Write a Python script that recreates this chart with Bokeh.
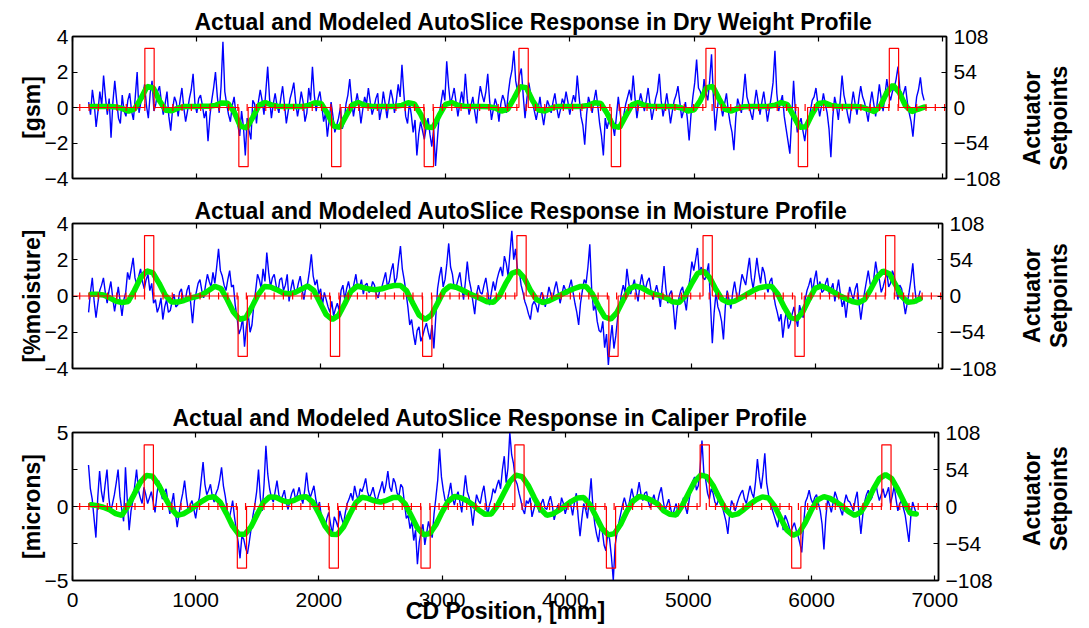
import math
import numpy as np
from bokeh.plotting import figure
from bokeh.layouts import column, row
from bokeh.models import Range1d, LinearAxis, FixedTicker
from bokeh.core.properties import value
from bokeh.embed import file_html
from bokeh.resources import INLINE

# ---------------- data ----------------
x_ticks = [0, 1000, 2000, 3000, 4000, 5000, 6000, 7000]
act_ticks = [-108, -54, 0, 54, 108]

# measured profile sample positions (mm) and model positions (mm)
blue_x = np.arange(130, 6851, 15)
model_x = np.arange(150, 6851, 50)

# actuator setpoint bumps
act_starts = [582, 1338, 2084, 2829, 3591, 4334, 5095, 5838, 6570]
act_values = [90, -90, -90, -90, 90, -90, 90, -90, 90]
act_width = 74.8
act_first_edge = 58.4
act_count = 94

dry_actual = [
    0.3, -0.4, 1.0, 0.2, -1.1, -0.2, 0.9, 0.1, 1.8, 0.6, -0.4, 0.5, -1.7, 0.3, 1.5, 0.4, -0.6, -0.9, 0.7, -0.2,
    -0.5, 0.4, 0.8, -0.2, -0.7, 0.6, 2.0, -0.3, 0.3, 0.7, 1.3, 0.1, -0.6, 0.8, 1.5, -0.2, 0.2, 0.9, 1.2, 0.3,
    -0.4, 0.2, 0.9, -0.5, -1.3, -0.1, 0.6, 0.3, -0.5, 0.4, 1.1, 0.0, -0.8, -0.2, 0.5, 1.0, 1.9, 0.2, -0.3, 0.5,
    0.7, 0.1, -0.6, -0.2, -1.9, -0.5, 0.4, 1.1, 2.0, 0.6, -0.3, 1.2, 3.7, 0.9, 0.2, -0.4, -0.8, 0.1, 0.6, -0.4,
    -1.0, -1.6, -0.2, -1.1, -2.7, -0.6, -1.3, -1.8, 0.4, 0.2, -0.9, 0.3, 1.0, 0.4, -0.4, 0.9, 2.3, 0.5, -0.6, 0.2,
    0.8, 0.1, -0.3, 0.5, 1.2, 0.2, -0.9, -0.2, 0.5, 0.9, 1.4, 0.3, -0.5, 0.1, 0.9, 0.3, -0.8, -0.3, 1.1, 0.4,
    2.3, 0.7, -0.2, 0.5, 0.9, 0.1, -0.8, -0.3, -1.65, -0.7, 0.3, -0.5, -1.4, -1.0, -0.6, 0.0, -1.2, -0.8, 0.2, 0.7,
    1.6, 0.4, -0.5, 0.2, 0.8, 0.1, -0.9, -0.1, 0.6, 0.2, 1.1, 0.3, -0.4, 0.0, 0.5, 0.8, -0.7, -0.1, 0.9, 0.2,
    -0.6, 0.3, 1.0, 0.5, -0.3, 0.4, 1.3, 0.6, 2.4, 0.8, -0.5, -0.9, 0.3, -0.4, -1.4, -0.7, -2.7, -1.5, -0.8, -1.3,
    -1.8, -1.1, -0.6, -1.5, -2.2, -1.2, -3.3, -1.8, -0.4, 0.3, 1.0, 0.4, 2.6, 1.2, 0.2, 0.6, 1.1, 0.3, -0.5, 0.2,
    0.9, 0.2, 1.9, 0.5, -0.4, 0.1, 0.6, -0.2, -0.9, 0.4, 1.2, 0.7, 0.3, 0.9, 1.9, 0.4, -0.7, -0.1, 0.5, 0.1,
    -0.8, 0.2, 0.7, 0.4, -0.3, 0.8, 1.6, 2.1, 3.2, 1.5, 0.9, 1.8, 2.2, 0.7, -0.6, 0.5, 1.4, 0.8, 0.3, -0.2,
    -0.7, -0.1, 0.6, -0.3, -1.0, -0.2, 0.4, 0.1, -0.3, 0.3, 0.8, 0.0, -0.6, -0.1, 0.5, 0.2, 0.9, 0.3, -0.4, 0.2,
    0.7, 0.3, 1.8, 0.6, -0.5, -1.0, -2.1, -0.4, 0.6, 0.2, -0.3, 0.4, 1.0, 0.1, -0.9, -1.6, -2.7, -0.6, -1.2, -0.7,
    -0.4, -1.0, -1.6, -0.5, 0.6, -0.3, -1.1, -0.4, 0.2, 0.6, 1.0, 0.4, 1.8, 0.5, -0.6, 0.2, 0.8, 0.3, -0.2, 0.4,
    1.1, 0.2, -0.7, -0.1, 0.5, 0.9, 1.9, 0.4, -0.5, 0.1, 0.8, 0.0, -0.9, -0.2, 0.4, 0.7, 1.2, 0.3, -0.6, -0.2,
    0.3, -0.6, -1.85, -0.4, 0.6, 1.4, 2.7, 1.1, 0.9, 0.4, 1.6, 0.8, 0.4, 1.5, 3.0, 0.6, -1.3, -0.2, 0.7, 0.1,
    -0.5, 0.2, 0.8, -0.2, -0.9, -1.4, -2.4, -0.6, 0.5, 0.1, -0.3, 0.7, 1.9, 0.6, 0.2, -0.3, -0.7, 0.2, 1.0, 0.3,
    -0.4, 0.3, 0.9, 0.1, -0.8, -0.1, 0.6, 1.4, 3.2, 0.8, -0.2, 0.3, 0.7, -0.5, -1.2, -1.9, -2.6, -0.6, 1.5, -0.3,
    -1.4, -0.9, -0.6, -1.3, -1.9, -1.0, -0.9, -0.2, 0.4, 0.6, 1.1, 0.2, -0.5, 0.1, 0.8, 0.2, -0.3, -1.2, -2.8, -0.6,
    0.6, 0.1, -0.7, 0.4, 1.8, 0.7, 0.2, -0.4, -0.9, 0.1, 0.9, 0.2, -0.4, 0.5, 1.2, 0.6, 0.3, -0.2, -0.8, 0.2,
    0.9, 0.2, -0.5, 0.4, 1.3, 0.5, -0.2, 0.7, 1.6, 0.8, 0.4, 0.9, 1.1, 1.6, 2.3, 1.0, 0.5, 0.8, 1.2, 0.3,
    -0.3, -0.8, -1.65, -0.4, 0.6, 1.0, 1.7, 0.8, 0.4,
]

moist_actual = [
    -0.9, 0.2, 1.0, -0.3, -1.2, -0.4, 0.3, 0.6, 1.0, 0.2, -0.4, 0.3, 0.8, -0.1, -0.85, -0.2, 0.5, -0.3, -1.1, -0.2,
    0.2, 1.3, 0.9, 1.5, 2.1, 1.0, 0.6, 1.1, 1.5, 0.8, 0.4, 0.9, 1.2, 0.3, 0.7, -0.4, -0.2, -0.9, -0.6, -0.1,
    -1.3, -0.6, -0.2, -0.9, -0.8, -0.3, 0.1, -0.6, -0.5, 0.2, 0.4, -0.2, -0.3, 0.3, 0.6, -0.4, -1.5, -0.3, 0.2, 0.7,
    0.9, 0.3, -0.1, 0.6, 1.2, 0.8, 0.5, 1.3, 0.7, 1.6, 2.6, 1.4, 1.1, 0.6, 0.3, 0.9, 1.4, 0.5, 0.6, -0.5,
    -1.2, -2.1, -1.8, -1.2, -2.8, -1.7, -1.0, -2.0, -1.6, -0.5, 0.3, 1.2, 0.9, 0.4, 1.5, 0.8, 2.4, 1.3, 0.5, 1.0,
    1.2, 0.6, 0.2, 0.9, 1.0, 0.3, 0.6, 1.2, -0.3, 0.4, 0.9, 0.3, 0.2, 0.7, 1.1, 0.4, -0.2, 0.5, 0.7, 1.4,
    2.3, 1.1, 0.6, 0.9, 0.1, 0.4, -0.5, 0.2, -0.2, -0.6, -0.9, -0.3, -1.1, -0.7, -0.4, -0.8, 0.3, 0.6, -0.2, 0.4,
    0.8, 0.3, 0.2, 0.7, 1.2, 0.4, 0.5, 0.9, 0.1, 0.6, 0.7, 0.2, 0.3, 0.8, 0.6, 0.1, -0.1, 0.4, 0.5, 0.9,
    1.3, 0.5, 0.8, 1.4, 1.8, 0.7, 1.0, 1.9, 2.75, 1.5, 0.9, 0.2, -0.6, -1.6, -1.3, -2.1, -2.7, -1.9, -1.7, -2.5,
    -2.2, -1.8, -1.5, -2.0, -2.4, -1.6, -2.9, -1.2, 0.4, 1.1, 1.6, 0.5, 0.9, 1.8, 2.9, 1.6, 1.2, 0.4, 0.5, 0.9,
    1.3, 0.5, -0.2, 0.8, 1.9, 0.9, 0.4, -0.3, -1.0, 0.1, 0.6, 0.2, 0.1, 0.6, 1.0, 0.3, -0.5, 0.2, 0.8, 0.3,
    0.9, 1.3, 1.6, 1.1, 2.2, 1.8, 1.1, 2.4, 3.6, 2.0, 2.6, 1.5, 1.4, 0.6, 0.2, -0.3, -0.6, -1.0, -1.3, -0.5,
    -0.3, -0.5, -0.9, -0.2, 0.2, 0.0, -0.6, -0.1, 0.5, 0.1, -0.2, 0.4, 0.8, 0.2, -0.4, 0.1, 0.6, 0.3, 0.1, 0.5,
    0.9, 0.2, -0.4, -0.9, -1.6, -0.4, 0.3, 0.9, 0.7, 1.6, 2.85, 0.4, -0.8, -0.5, -1.4, -1.9, -2.0, -1.4, -2.85, -2.1,
    -3.8, -2.5, -1.6, -2.9, -2.2, -1.2, -0.7, 0.1, 0.6, 0.2, 1.5, 0.7, 0.1, 0.5, 0.9, 0.2, -0.3, 0.6, 1.2, 0.6,
    0.4, 0.8, 1.0, 0.3, -0.2, 0.2, 0.6, 0.1, -0.6, 0.5, 1.65, 0.4, -0.4, 0.1, 0.3, -0.6, -1.85, -0.7, -0.1, 0.3,
    0.5, -0.2, -0.8, 0.3, 1.0, 1.9, 1.4, 2.0, 2.65, 1.2, 1.6, 1.0, 0.9, 1.3, 1.8, -0.4, -2.6, -0.9, 0.2, -0.6,
    -0.9, -1.4, -2.4, -0.6, 0.3, -0.2, -0.7, 0.2, 0.8, 0.1, -0.3, 0.5, 1.2, 0.9, 0.6, 1.4, 2.1, 1.0, 0.4, 1.2,
    2.1, 1.3, 0.7, 1.6, 1.3, 0.6, 0.2, 0.8, 1.0, 0.1, -0.5, -0.9, -1.4, -1.0, -2.3, -1.4, -0.8, -1.8, -1.5, -1.0,
    -0.6, -1.2, -1.7, -0.5, -0.9, -1.2, -0.2, 0.3, 0.6, 1.0, 0.2, 0.9, 1.4, 0.4, 0.8, 0.2, 0.3, 0.7, 1.0, 0.1,
    0.4, 0.7, -0.3, 0.3, 0.9, 0.1, -0.6, -0.2, -1.2, -0.3, 0.5, 0.1, -0.2, 0.4, 0.7, -0.4, -1.3, -0.5, 0.2, 0.8,
    1.4, 0.7, 0.3, 1.0, 1.9, 1.2, 0.9, 0.2, 0.5, 0.9, 1.3, 0.5, 0.7, 1.4, 1.1, 0.4, -0.2, 0.6, 0.4, -0.3,
    -1.0, -0.4, 0.2, 0.9, 1.8, 0.5, -0.4, -0.1, 0.3,
]

cal_actual = [
    2.8, 1.2, 0.5, -0.8, -2.1, 0.6, 2.4, 1.0, 0.3, 1.5, 2.5, 0.6, -0.4, 0.2, 0.8, 1.6, 2.5, 0.7, -0.2, -1.0,
    2.65, 0.4, -1.6, -0.3, 0.4, 1.4, 2.5, 1.1, 0.6, 0.2, 1.3, 0.8, 0.2, 0.6, 1.0, 0.3, -0.4, 0.8, 1.75, 1.0,
    0.5, 0.9, 1.2, 0.3, -0.5, 0.2, 0.9, -0.4, -1.4, -0.5, 0.3, 0.9, 1.75, 0.6, -0.3, 0.1, 0.4, -0.2, -0.8, 0.1,
    0.6, 1.8, 3.0, 1.5, 0.8, 1.1, 1.5, 0.7, 0.3, 0.9, 1.2, 1.8, 2.65, 1.4, 0.7, -0.2, -0.9, -0.3, 0.4, -0.7,
    -1.6, -2.4, -3.5, -2.0, -2.2, -2.8, -3.2, -2.4, -1.5, -0.6, 0.1, 1.0, 2.5, 0.6, -0.3, 1.5, 4.1, 2.2, 1.2, 0.6,
    0.3, 1.0, 1.75, 0.8, 0.4, 0.7, 1.1, 0.3, -0.2, 0.4, 0.9, 1.2, 0.5, 0.8, 1.3, 0.6, 0.2, 1.1, 2.3, 1.1,
    0.6, 1.0, 1.4, 0.5, -0.1, 0.3, -0.7, -1.1, -1.4, -0.8, -0.4, -1.2, -1.85, -0.7, -1.0, -1.4, -0.3, -0.8, -1.2, -0.4,
    0.2, 0.5, 0.9, 0.4, 1.4, 0.8, 0.4, 1.2, 1.0, 1.4, 1.9, 1.0, 0.6, 0.9, 1.3, 0.7, 0.3, 0.8, 1.2, 1.7,
    0.9, 1.5, 2.4, 1.3, 1.0, 1.9, 1.6, 0.9, 0.7, 1.5, 1.3, 0.2, -0.8, -0.6, -1.5, -1.0, -2.3, -1.6, -3.9, -2.4,
    -1.7, -1.2, -2.6, -1.8, -1.0, -1.6, -2.1, -0.5, 0.6, 1.8, 3.9, 2.0, 1.1, 0.4, 0.3, 0.9, 1.6, 0.6, 0.1, 0.7,
    1.0, 0.3, -0.4, 0.9, 2.1, 1.0, 0.6, -0.2, -1.3, -0.1, 0.8, 0.4, 0.2, 0.9, 1.4, 0.4, -0.6, 0.1, 0.5, 1.2,
    0.9, 1.4, 1.8, 1.2, 2.5, 3.4, 1.6, 2.6, 5.0, 3.5, 2.9, 1.8, 1.5, 0.9, 0.4, -0.2, -0.5, 0.4, 0.2, 0.6,
    -0.7, -0.2, 0.3, 0.0, -0.4, 0.2, 0.5, -0.1, -0.2, 0.3, 0.7, 0.1, -0.9, -0.4, 0.1, -0.3, 0.6, 0.2, -0.5, 0.0,
    0.4, 0.1, -0.6, 0.3, 0.9, -0.7, -2.0, -0.8, 0.2, -0.2, -0.8, 0.5, 1.9, -0.1, -1.2, -1.9, -2.4, -1.2, -1.6, -2.6,
    -3.0, -1.8, -2.2, -3.4, -5.0, -2.6, -1.8, -1.1, -0.5, 0.1, 0.6, 0.1, -0.2, 0.5, 1.2, 0.6, 0.3, 0.9, 1.65, 0.8,
    0.4, 0.9, 1.0, 0.3, -0.1, 0.4, 0.8, 0.2, 0.3, 0.9, 1.3, 0.4, -0.3, 0.1, 0.5, -0.1, -0.7, -0.2, 0.2, -0.4,
    -0.4, 0.1, 0.6, 0.0, -0.5, 0.4, 1.2, 1.7, 2.0, 1.1, 1.4, 2.6, 4.45, 2.3, 1.8, 0.9, 0.5, 1.2, 0.9, 0.3,
    0.1, 0.5, 0.7, 0.0, -0.5, -1.0, -1.85, -0.5, 0.4, 0.1, -0.3, 0.2, 0.6, 0.9, 1.1, 0.5, 0.2, 0.8, 1.4, 0.9,
    0.6, 1.7, 3.2, 2.0, 1.2, 2.2, 3.6, 1.6, 0.8, 0.2, -0.2, -0.6, -1.0, -1.4, -0.4, -0.9, -1.6, -0.6, -0.9, -1.3,
    -1.8, -1.4, -1.1, -1.6, -2.0, -2.5, -3.1, -1.2, 0.3, 0.6, 1.1, 0.5, 0.2, 0.6, 0.8, 0.2, -0.3, -1.2, -2.9, -0.8,
    0.5, 0.1, -0.4, 0.3, 1.0, 0.6, 0.2, -0.2, -0.6, 0.2, 0.8, 0.4, 0.3, 0.0, -0.3, 0.5, 1.0, -0.5, -1.85, -0.6,
    0.3, 0.8, 1.1, 0.4, 0.6, 1.1, 1.65, 0.9, 0.4, 0.8, 1.2, 0.6, 0.9, 1.3, 0.2, 0.7, 1.4, 0.5, -0.3, 0.2,
    0.4, -0.1, -0.6, -1.5, -2.4, -0.7, 0.3, -0.1, -0.5,
]

dry_model = [
    0.06, 0.06, 0.06, 0.05, 0.03, -0.05, -0.21, -0.08, 0.5, 1.18,
    1.1, 0.38, -0.15, -0.19, -0.03, 0.05, 0.06, 0.06, 0.07, 0.07,
    0.12, 0.26, 0.24, -0.25, -1.05, -1.15, -0.55, 0.12, 0.28, 0.15,
    0.07, 0.06, 0.06, 0.06, 0.06, 0.12, 0.27, 0.22, -0.33, -1.05,
    -1.12, -0.48, 0.15, 0.28, 0.13, 0.07, 0.06, 0.06, 0.06, 0.07,
    0.12, 0.27, 0.2, -0.37, -1.1, -1.12, -0.43, 0.18, 0.28, 0.13,
    0.07, 0.06, 0.06, 0.06, 0.04, -0.03, -0.2, -0.1, 0.5, 1.17,
    1.12, 0.4, -0.14, -0.2, -0.04, 0.05, 0.06, 0.06, 0.06, 0.07,
    0.12, 0.27, 0.22, -0.33, -1.05, -1.12, -0.48, 0.15, 0.28, 0.13,
    0.07, 0.06, 0.06, 0.06, 0.04, -0.03, -0.2, -0.13, 0.4, 1.12,
    1.18, 0.5, -0.1, -0.2, -0.05, 0.04, 0.06, 0.06, 0.06, 0.07,
    0.13, 0.28, 0.16, -0.47, -1.12, -1.08, -0.35, 0.22, 0.27, 0.12,
    0.07, 0.06, 0.06, 0.06, 0.02, -0.1, -0.23, 0.1, 0.85, 1.26,
    0.85, 0.1, -0.23, -0.1, 0.02,
]

moist_model = [
    0.1, 0.1, 0.05, -0.1, -0.28, -0.36, -0.3, 0.3, 1.0, 1.38,
    1.27, 0.7, 0.03, -0.33, -0.33, -0.25, -0.12, -0.03, 0.08, 0.3,
    0.54, 0.41, -0.19, -0.88, -1.28, -1.2, -0.6, 0.08, 0.53, 0.5,
    0.35, 0.17, 0.12, 0.2, 0.38, 0.55, 0.3, -0.37, -1.03, -1.3,
    -1.07, -0.43, 0.26, 0.55, 0.46, 0.38, 0.35, 0.4, 0.5, 0.58,
    0.58, 0.28, -0.4, -1.05, -1.3, -1.05, -0.4, 0.28, 0.55, 0.48,
    0.33, 0.15, 0.0, -0.15, -0.32, -0.35, 0.0, 0.68, 1.25, 1.38,
    1.0, 0.32, -0.2, -0.36, -0.27, -0.1, 0.08, 0.25, 0.4, 0.52,
    0.53, 0.12, -0.57, -1.15, -1.28, -0.9, -0.22, 0.4, 0.55, 0.45,
    0.25, 0.1, 0.02, -0.12, -0.32, -0.36, 0.0, 0.65, 1.24, 1.38,
    1.0, 0.35, -0.2, -0.36, -0.28, -0.1, 0.1, 0.3, 0.45, 0.52,
    0.53, 0.1, -0.6, -1.18, -1.28, -0.88, -0.2, 0.42, 0.55, 0.42,
    0.22, 0.02, -0.15, -0.3, -0.37, -0.2, 0.37, 1.02, 1.38, 1.23,
    0.63, -0.02, -0.35, -0.31, -0.15,
]

cal_model = [
    0.12, 0.06, -0.05, -0.22, -0.48, -0.6, 0.03, 0.82, 1.63, 2.1,
    2.04, 1.45, 0.62, -0.12, -0.6, -0.5, -0.25, 0.05, 0.35, 0.6,
    0.66, 0.29, -0.48, -1.33, -1.88, -1.88, -1.36, -0.52, 0.27, 0.65,
    0.62, 0.42, 0.3, 0.42, 0.62, 0.66, 0.3, -0.46, -1.32, -1.87,
    -1.89, -1.38, -0.54, 0.25, 0.63, 0.55, 0.38, 0.3, 0.42, 0.6,
    0.62, 0.18, -0.63, -1.45, -1.91, -1.83, -1.23, -0.38, 0.35, 0.68,
    0.6, 0.4, 0.12, -0.25, -0.53, -0.5, 0.07, 0.88, 1.68, 2.12,
    2.02, 1.42, 0.57, -0.17, -0.6, -0.5, -0.25, 0.05, 0.35, 0.58,
    0.6, 0.13, -0.68, -1.5, -1.92, -1.83, -1.2, -0.33, 0.37, 0.68,
    0.6, 0.42, 0.18, -0.3, -0.53, -0.58, 0.07, 0.88, 1.68, 2.12,
    2.02, 1.42, 0.57, -0.17, -0.6, -0.5, -0.2, 0.15, 0.45, 0.65,
    0.57, 0.02, -0.82, -1.6, -1.95, -1.75, -1.07, -0.2, 0.46, 0.67,
    0.55, 0.3, 0.0, -0.35, -0.6, -0.38, 0.3, 1.15, 1.88, 2.15,
    1.88, 1.15, 0.3, -0.45, -0.5,
]

# ---------------- helpers ----------------
FONT = "Liberation Sans"
X_MAX = 7030
FRAME_LEFT = 72
MAIN_W = 1011
SIDE_W = 1089 - MAIN_W


def setpoint_steps():
    xs, ys = [0], [0]
    for s, v in zip(act_starts, act_values):
        xs += [s, s, s + act_width, s + act_width]
        ys += [0, v, v, 0]
    xs.append(X_MAX)
    ys.append(0)
    return xs, ys


act_edges = [act_first_edge + act_width * k for k in range(act_count)]


def style_axis(ax, labels=True):
    ax.axis_line_color = "black"
    ax.axis_line_width = 1.5
    ax.major_tick_line_color = "black"
    ax.major_tick_line_width = 1.2
    ax.major_tick_in = 5
    ax.major_tick_out = 0
    ax.minor_tick_line_color = None
    ax.major_label_text_font = FONT
    ax.major_label_text_color = "black"
    if labels:
        ax.major_label_text_font_size = "21px"
    else:
        ax.major_label_text_font_size = "0px"
        ax.major_label_text_color = None
        ax.major_label_standoff = 0
    ax.axis_label_text_font = FONT
    ax.axis_label_text_font_style = "bold"
    ax.axis_label_text_font_size = "23px"
    ax.axis_label_text_color = "black"


def make_side(height, label_y):
    """Narrow panel holding the two-line right-hand caption."""
    s = figure(width=SIDE_W, height=height, x_range=Range1d(0, SIDE_W),
               y_range=Range1d(0, height), x_axis_type=None, y_axis_type=None,
               output_backend="svg", toolbar_location=None,
               min_border_left=0, min_border_right=0, min_border_top=0,
               min_border_bottom=0)
    s.outline_line_color = None
    s.background_fill_color = "white"
    s.border_fill_color = "white"
    for xx, txt in ((1031 - MAIN_W, "Actuator"), (1058 - MAIN_W, "Setpoints")):
        s.text(x=[xx], y=[label_y], text=[txt], angle=math.pi / 2,
               text_align="center", text_baseline="middle",
               text_font=value(FONT), text_font_style="bold",
               text_font_size="23px", text_color="black")
    return s


def make_panel(height, top, bottom, right, ylim, yticks, ylabel_ticks, ylabel,
               title, title_offset, title_standoff, model, actual, x_labels):
    p = figure(width=MAIN_W, height=height,
               x_range=Range1d(0, X_MAX), y_range=Range1d(*ylim),
               x_axis_type=None, y_axis_type=None,
               output_backend="svg", toolbar_location=None,
               min_border_left=FRAME_LEFT, min_border_right=right,
               min_border_top=top, min_border_bottom=bottom)
    p.extra_y_ranges = {"act": Range1d(-108, 108)}
    p.background_fill_color = "white"
    p.border_fill_color = "white"
    p.outline_line_color = "black"
    p.outline_line_width = 1.5
    p.title.text = title
    p.title.text_font = FONT
    p.title.text_font_size = "23px"
    p.title.text_font_style = "bold"
    p.title.text_color = "black"
    p.title.align = "left"
    p.title.offset = title_offset
    p.title.standoff = title_standoff

    # left axis: inner axis carries all ticks, outer one the labels
    inner = LinearAxis(ticker=FixedTicker(ticks=yticks))
    style_axis(inner, labels=False)
    p.add_layout(inner, "left")
    la = LinearAxis(ticker=FixedTicker(ticks=ylabel_ticks), axis_label=ylabel)
    style_axis(la)
    la.axis_line_color = None
    la.major_tick_in = 0
    la.major_label_standoff = 4
    la.axis_label_standoff = -3
    p.add_layout(la, "left")

    # right axis
    ra = LinearAxis(y_range_name="act", ticker=FixedTicker(ticks=act_ticks))
    style_axis(ra)
    ra.major_label_standoff = 7
    p.add_layout(ra, "right")

    # bottom axis
    ba = LinearAxis(ticker=FixedTicker(ticks=x_ticks))
    style_axis(ba, labels=x_labels)
    if x_labels:
        ba.axis_label = "CD Position, [mm]"
        ba.major_label_standoff = 12
        ba.axis_label_standoff = -12
    p.add_layout(ba, "below")

    # top axis (ticks only)
    ta = LinearAxis(ticker=FixedTicker(ticks=x_ticks))
    style_axis(ta, labels=False)
    p.add_layout(ta, "above")

    # data
    p.line(blue_x, actual, line_color="#0000ff", line_width=1.4)
    p.line(model_x, model, line_color="#00ee00", line_width=5.5, line_cap="round")
    sx, sy = setpoint_steps()
    p.line(sx, sy, line_color="#ff0000", line_width=1.2, y_range_name="act")
    p.scatter(act_edges, [0] * len(act_edges), marker="dash", angle=math.pi / 2,
              size=7, line_color="#ff0000", line_width=1.2, y_range_name="act")
    return p


p1 = make_panel(195, 36, 17, MAIN_W - 946, (-4, 4), [-4, -2, 0, 2, 4], [-4, -2, 0, 2, 4], "[gsm]",
                "Actual and Modeled AutoSlice Response in Dry Weight Profile", 122, 3,
                dry_model, dry_actual, False)
p2 = make_panel(205, 28, 32, MAIN_W - 942, (-4, 4), [-4, -2, 0, 2, 4], [-4, -2, 0, 2, 4], "[%moisture]",
                "Actual and Modeled AutoSlice Response in Moisture Profile", 122, 0,
                moist_model, moist_actual, False)
p3 = make_panel(228, 32, 48, MAIN_W - 938, (-5, 5), [-5, -2.5, 0, 2.5, 5], [-5, 0, 5], "[microns]",
                "Actual and Modeled AutoSlice Response in Caliper Profile", 100, 4,
                cal_model, cal_actual, True)

s1 = make_side(195, 195 - 112)
s2 = make_side(205, 400 - 297)
s3 = make_side(228, 628 - 502)

layout = column(row(p1, s1, spacing=0), row(p2, s2, spacing=0),
                row(p3, s3, spacing=0), spacing=0)
open("out.html", "w").write(file_html(layout, INLINE))
